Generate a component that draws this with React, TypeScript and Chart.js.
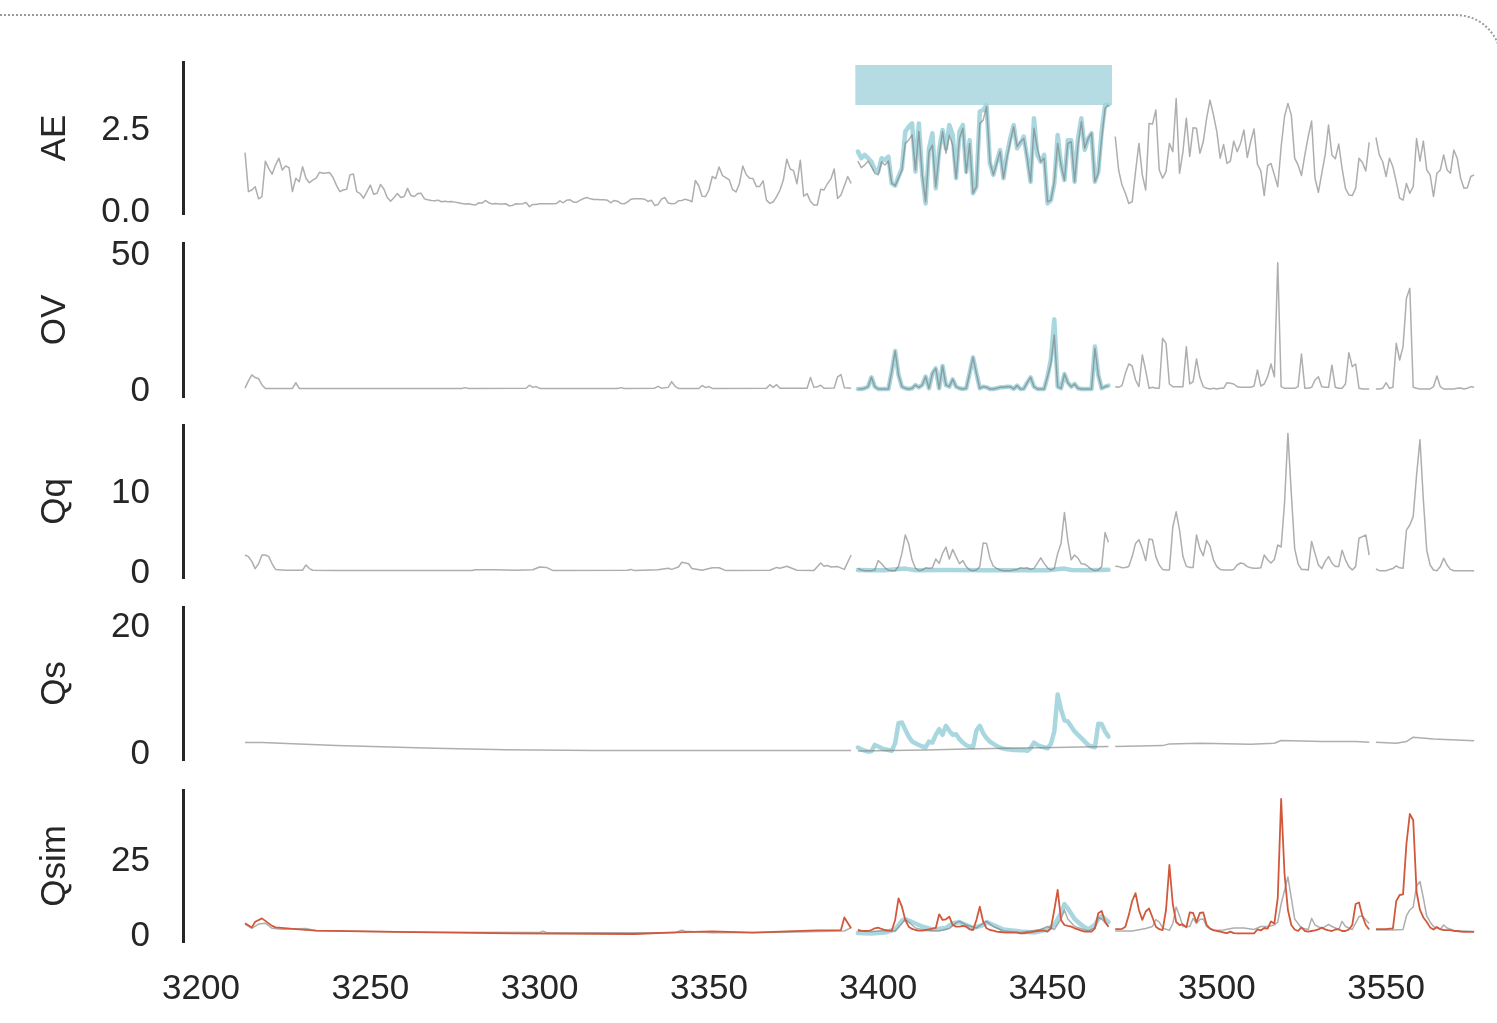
import React, { useEffect, useRef } from "react";
import { Chart, registerables } from "chart.js";

Chart.register(...registerables);

// ---------------- data ----------------
const X_TICKS = [3200, 3250, 3300, 3350, 3400, 3450, 3500, 3550];
const X_MIN = 3194.68;
const X_MAX = 3582.75;

const SEG1_START = 3213;
const SEG2_START = 3394;
const SEG3A_START = 3470;
const SEG3B_START = 3547;

// AE
const AE_GREY_1 = [
  1.75, 0.56, 0.61, 0.71, 0.34, 0.41, 1.49, 1.27, 1.09, 1.37,
  1.58, 1.22, 1.34, 1.29, 0.56, 0.97, 0.86, 1.32, 0.97, 0.83,
  0.91, 0.97, 1.15, 1.12, 1.13, 1.14, 0.99, 0.75, 0.56, 0.61,
  0.63, 1.07, 1.1, 0.56, 0.5, 0.36, 0.56, 0.76, 0.48, 0.51,
  0.78, 0.64, 0.38, 0.27, 0.38, 0.5, 0.38, 0.41, 0.66, 0.44,
  0.41, 0.5, 0.51, 0.34, 0.31, 0.29, 0.28, 0.3, 0.25, 0.27,
  0.25, 0.26, 0.24, 0.22, 0.2, 0.18, 0.19, 0.17, 0.15, 0.22,
  0.21, 0.29, 0.22, 0.18, 0.2, 0.18, 0.18, 0.19, 0.13, 0.14,
  0.19, 0.18, 0.19, 0.23, 0.1, 0.17, 0.17, 0.19, 0.19, 0.19,
  0.19, 0.19, 0.2, 0.28, 0.22, 0.3, 0.31, 0.24, 0.24, 0.3,
  0.35, 0.38, 0.34, 0.32, 0.32, 0.31, 0.31, 0.3, 0.22, 0.29,
  0.27, 0.2, 0.19, 0.25, 0.33, 0.34, 0.34, 0.34, 0.33, 0.26,
  0.3, 0.14, 0.17, 0.33, 0.38, 0.21, 0.19, 0.2, 0.28, 0.29,
  0.33, 0.3, 0.25, 0.9, 0.74, 0.42, 0.41, 0.61, 1.02, 0.96,
  1.31, 1.05, 0.99, 0.92, 0.62, 0.55, 0.8, 1.34, 1.08, 0.97,
  0.96, 0.72, 0.72, 0.89, 0.3, 0.2, 0.25, 0.41, 0.61, 0.92,
  1.55, 1.25, 1.2, 0.8, 1.52, 0.42, 0.5, 0.26, 0.15, 0.15,
  0.63, 0.61, 0.8, 0.94, 1.25, 0.35, 0.46, 0.74, 1.02, 0.81,
];
const AE_GREY_2 = [
  1.49, 1.29, 1.37, 1.49, 1.32, 1.12, 1.07, 1.47, 1.37, 1.49,
  0.81, 0.74, 0.97, 1.22, 2.03, 2.13, 2.29, 1.22, 2.39, 1.07,
  0.25, 1.78, 1.98, 0.71, 1.68, 2.39, 1.73, 2.29, 1.98, 0.97,
  2.18, 2.49, 1.12, 2.03, 0.51, 0.71, 2.64, 2.74, 3.15, 1.47,
  1.07, 1.42, 1.78, 0.97, 1.58, 2.08, 2.54, 1.93, 2.08, 2.18,
  1.58, 0.86, 2.49, 1.88, 1.47, 1.58, 0.25, 0.3, 0.86, 2.03,
  1.37, 0.91, 2.03, 2.08, 0.86, 1.98, 2.69, 1.88, 2.18, 2.34,
  0.86, 1.12, 2.18, 3.1, 3.2,
];
const AE_BLUE_2 = [
  1.78, 1.58, 1.68, 1.58, 1.47, 1.22, 1.17, 1.58, 1.52, 1.63,
  0.81, 0.74, 1.02, 1.27, 2.39, 2.54, 2.64, 1.17, 2.64, 1.07,
  0.2, 1.88, 2.34, 0.66, 1.83, 2.44, 1.88, 2.59, 2.29, 0.97,
  2.39, 2.59, 1.17, 2.13, 0.51, 0.71, 3.0, 3.05, 3.2, 1.42,
  1.07, 1.47, 1.83, 0.97, 1.68, 2.18, 2.59, 1.88, 2.03, 2.24,
  1.58, 0.86, 2.8, 1.68, 1.47, 1.68, 0.2, 0.3, 0.81, 2.29,
  1.37, 0.91, 2.13, 2.13, 0.86, 2.18, 2.8, 1.83, 2.18, 2.34,
  0.86, 1.17, 2.39, 3.2, 3.2,
];
const AE_GREY_3A = [
  2.24, 1.22, 0.76, 0.51, 0.2, 0.25, 1.17, 2.03, 1.07, 0.61,
  2.64, 2.62, 3.05, 1.22, 0.97, 1.17, 2.03, 1.78, 3.4, 1.12,
  1.78, 2.8, 1.63, 2.51, 2.49, 1.73, 2.08, 2.8, 3.35, 2.9,
  2.39, 1.58, 2.0, 1.42, 1.49, 2.1, 1.78, 2.03, 2.44, 1.6,
  2.08, 2.47, 1.39, 1.19, 0.44, 1.35, 1.42, 1.07, 0.71, 1.93,
  2.85, 3.25, 2.9, 1.58, 1.37, 1.05, 1.68, 2.24, 2.71, 0.97,
  0.54, 1.12, 1.68, 2.59, 1.68, 1.56, 2.01, 1.27, 0.66, 0.46,
  0.44, 0.66, 1.58, 1.45, 1.19, 2.06,
];
const AE_GREY_3B = [
  2.21, 1.68, 1.47, 1.02, 1.58, 1.32, 0.86, 0.36, 0.3, 0.81,
  0.51, 0.71, 2.18, 1.49, 2.1, 1.22, 1.07, 0.41, 1.12, 1.22,
  1.68, 1.22, 1.12, 1.83, 1.58, 0.97, 0.66, 0.68, 1.02, 1.07,
];
const AE_BAND_X = [3393.2, 3469.1];
const AE_BAND_Y = [3.2, 4.42];

// OV
const OV_GREY_1 = [
  [3213, 0.3], [3214, 3.0], [3215, 5.2], [3216, 4.2], [3217, 3.8], [3218, 1.5], [3219, 0.2],
  [3227, 0.2], [3228, 2.3], [3229, 0.2], [3277, 0.2], [3278, 0.5], [3279, 0.2],
  [3296, 0.3], [3297, 1.4], [3298, 0.6], [3299, 0.9], [3300, 0.2], [3323, 0.2], [3324, 0.5],
  [3325, 0.2], [3334, 0.3], [3335, 1.0], [3336, 0.3], [3338, 0.6], [3339, 2.7], [3340, 1.0],
  [3341, 0.2], [3347, 0.2], [3348, 1.3], [3349, 0.5], [3350, 0.9], [3351, 0.2], [3367, 0.3],
  [3368, 1.6], [3369, 0.6], [3370, 1.6], [3371, 0.3], [3379, 0.3], [3380, 4.2], [3381, 0.6],
  [3382, 0.8], [3383, 1.4], [3384, 0.3], [3387, 0.4], [3388, 4.5], [3389, 5.3], [3390, 0.5],
  [3392, 0.3],
];
const OV_GREY_2 = [
  0, 0, 0.25, 0.86, 4.29, 0.86, 0, 0, 0, 0,
  6.37, 13.97, 5.15, 0.86, 0.25, 0, 0.25, 1.47, 0.61, 1.47,
  4.53, 0.25, 5.76, 7.6, 0.25, 8.46, 1.47, 0.86, 3.55, 0.86,
  0.25, 0, 0.25, 5.76, 11.64, 5.76, 0.25, 0.86, 0.61, 0,
  0, 0.25, 0.61, 0.61, 0.86, 0.86, 0, 1.23, 0, 0.12,
  2.33, 4.29, 0.86, 0, 0, 0, 4.53, 9.44, 19.85, 0.86,
  0.25, 5.51, 2.33, 0.86, 1.84, 0.25, 0, 0, 0, 0,
  14.95, 5.15, 0.25, 0.86, 1.23,
];
const OV_BLUE_2 = [
  0, 0, 0.25, 0.86, 4.29, 0.86, 0, 0, 0, 0,
  6.37, 13.97, 5.15, 0.86, 0.25, 0, 0.25, 1.47, 0.61, 1.47,
  4.53, 0.25, 5.76, 7.6, 0.25, 8.46, 1.47, 0.86, 3.55, 0.86,
  0.25, 0, 0.25, 5.76, 11.64, 5.76, 0.25, 0.86, 0.61, 0,
  0, 0.25, 0.61, 0.61, 0.86, 0.86, 0, 1.23, 0, 0.12,
  2.33, 4.29, 0.86, 0, 0, 0, 4.53, 11.0, 25.6, 0.86,
  0.25, 5.51, 2.33, 0.86, 1.84, 0.25, 0, 0, 0, 0,
  15.6, 5.15, 0.25, 0.86, 1.23,
];
const OV_GREY_3A = [
  0.86, 0.61, 1.23, 5.76, 9.19, 8.46, 3.31, 0.86, 12.5, 6.74,
  0.25, 0.61, 0.25, 0.25, 18.63, 16.79, 1.84, 0.86, 0.86, 0.86,
  0.86, 15.56, 1.84, 2.7, 11.03, 4.29, 0.86, 0.25, 0, 0.25,
  0, 0.25, 0.25, 2.33, 2.08, 1.84, 0.86, 0.61, 0.61, 0.61,
  0.61, 1.1, 6.99, 1.1, 1.84, 4.53, 9.19, 4.53, 46.45, 0.86,
  0.25, 0.25, 0.25, 0.25, 0.86, 12.87, 0.25, 0.25, 0.61, 3.31,
  4.53, 0.86, 0.61, 0.61, 8.82, 0.61, 0.25, 0.25, 1.84, 13.36,
  8.21, 9.19, 0.25, 0, 0, 0,
];
const OV_GREY_3B = [
  0, 0, 0.25, 2.33, 0.25, 0.61, 16.79, 10.66, 15.56, 33.33,
  37.01, 0.61, 0.25, 0, 0, 0, 0, 0.86, 4.78, 0.86,
  0, 0, 0, 0, 0.25, 0.37, 0, 0.25, 0.86, 0.61,
];

// Qq
const QQ_GREY_1 = [
  [3213, 2.0], [3214, 1.8], [3215, 1.2], [3216, 0.3], [3217, 0.9], [3218, 2.0], [3219, 2.0],
  [3220, 1.8], [3221, 0.9], [3222, 0.2], [3225, 0.1], [3230, 0.1], [3231, 0.75], [3232, 0.3],
  [3233, 0.1], [3240, 0.05], [3280, 0.05], [3281, 0.15], [3287, 0.15], [3293, 0.1], [3298, 0.15],
  [3300, 0.5], [3302, 0.45], [3304, 0.05], [3326, 0.1], [3327, 0.2], [3328, 0.05], [3335, 0.15],
  [3338, 0.35], [3339, 0.2], [3341, 0.5], [3342, 1.1], [3344, 0.9], [3345, 0.3], [3348, 0.1],
  [3351, 0.4], [3353, 0.4], [3355, 0.05], [3368, 0.1], [3370, 0.45], [3371, 0.35], [3373, 0.6],
  [3376, 0.1], [3381, 0.05], [3383, 1.0], [3384, 0.6], [3385, 0.7], [3386, 0.5], [3388, 0.55],
  [3390, 0.2], [3392, 2.0],
];
const QQ_GREY_2 = [
  0.33, 0.12, 0.04, 0.04, 0.04, 0.12, 1.3, 0.9, 0.4, 0.12,
  0.04, 0.04, 0.6, 2.2, 4.5, 3.4, 1.4, 0.35, 0.04, 0.12,
  0.4, 0.33, 0.4, 1.5, 0.95, 2.2, 3.0, 1.5, 2.7, 1.8,
  0.9, 1.3, 0.55, 0.12, 0.04, 0.12, 0.55, 3.5, 3.45, 1.6,
  0.6, 0.33, 0.12, 0.04, 0.04, 0.04, 0.12, 0.2, 0.4, 0.33,
  0.4, 0.2, 0.33, 0.95, 1.65, 0.95, 0.4, 0.12, 0.33, 2.2,
  3.45, 7.3, 3.8, 1.4, 2.0, 1.6, 0.9, 0.85, 0.55, 0.2,
  0.04, 0.12, 0.55, 4.8, 3.6,
];
const QQ_BLUE_2 = [
  [3394, 0.12], [3398, 0.08], [3402, 0.1], [3408, 0.3], [3411, 0.1], [3420, 0.12], [3432, 0.1],
  [3440, 0.08], [3450, 0.1], [3455, 0.3], [3457, 0.12], [3462, 0.1], [3468, 0.15],
];
const QQ_GREY_3A = [
  0.6, 0.55, 0.4, 0.45, 0.55, 1.8, 3.45, 3.9, 2.8, 1.3,
  4.0, 3.9, 1.8, 0.75, 0.2, 0.12, 0.12, 5.5, 7.4, 5.1,
  1.8, 0.6, 0.45, 0.45, 4.5, 2.8, 1.9, 3.8, 3.1, 1.4,
  0.55, 0.2, 0.12, 0.12, 0.12, 0.2, 0.75, 1.0, 0.9, 0.55,
  0.4, 0.33, 0.33, 0.4, 2.0, 1.4, 1.0, 1.45, 3.25, 3.0,
  8.5, 17.2, 9.7, 2.8, 0.9, 0.2, 0.2, 0.12, 3.7, 2.2,
  0.75, 0.3, 1.2, 1.8, 1.0, 0.55, 0.55, 2.6, 1.4, 0.55,
  0.12, 0.55, 4.1, 4.3, 4.5, 2.0,
];
const QQ_GREY_3B = [
  0.25, 0.04, 0.04, 0.04, 0.2, 0.3, 0.65, 0.4, 0.33, 5.1,
  5.75, 6.8, 12.0, 16.4, 8.9, 2.6, 0.75, 0.12, 0.04, 0.55,
  1.6, 0.75, 0.2, 0.04, 0.04, 0.04, 0.04, 0.04, 0.04, 0.04,
];

// Qs
const QS_GREY_1 = [[3213, 1.48], [3218, 1.48], [3240, 1.0], [3269, 0.58], [3290, 0.35], [3316, 0.21], [3392, 0.21]];
const QS_GREY_2 = [[3394, 0.16], [3414, 0.32], [3426, 0.48], [3438, 0.58], [3452, 0.69], [3468, 0.85]];
const QS_GREY_3A = [[3470, 0.85], [3484, 1.0], [3486, 1.27], [3495, 1.38], [3510, 1.22], [3517, 1.38], [3519, 1.8], [3531, 1.64], [3541, 1.64], [3545, 1.53]];
const QS_GREY_3B = [[3547, 1.53], [3553, 1.38], [3556, 1.64], [3558, 2.33], [3564, 2.06], [3576, 1.75]];
const QS_BLUE_2 = [
  0.69, 0.42, 0.21, 0.05, 0.1, 1.11, 0.85, 0.58, 0.42, 0.32,
  0.16, 1.38, 4.55, 4.66, 3.49, 2.43, 1.64, 1.38, 1.11, 0.85,
  0.74, 1.64, 1.48, 2.7, 3.6, 2.7, 4.13, 3.33, 2.7, 2.8,
  2.01, 1.48, 1.06, 0.85, 0.74, 3.39, 4.13, 2.96, 2.17, 1.64,
  1.27, 0.95, 0.69, 0.53, 0.42, 0.37, 0.32, 0.32, 0.26, 0.32,
  0.16, 0.58, 1.48, 1.11, 0.85, 0.74, 0.58, 1.27, 3.23, 9.05,
  6.67, 4.97, 4.81, 4.02, 3.23, 2.7, 2.17, 1.64, 1.11, 0.85,
  0.74, 4.44, 4.39, 3.23, 2.43,
];

// Qsim
const QSIM_RED_1 = [
  [3213, 3.6], [3215, 2.2], [3216, 4.1], [3218, 5.2], [3221, 2.7], [3222, 2.2], [3228, 1.6],
  [3234, 1.1], [3257, 0.7], [3292, 0.2], [3328, 0.0], [3340, 0.55], [3351, 0.9], [3363, 0.45],
  [3373, 0.9], [3382, 1.2], [3389, 1.3], [3390, 5.5], [3392, 1.9],
];
const QSIM_GREY_1 = [
  [3213, 3.3], [3215, 1.9], [3217, 3.3], [3219, 3.6], [3221, 1.9], [3224, 1.6], [3231, 1.8],
  [3234, 1.1], [3270, 0.6], [3300, 0.5], [3301, 0.9], [3302, 0.5], [3340, 0.4], [3342, 1.3],
  [3343, 0.9], [3351, 0.4], [3373, 0.6], [3382, 0.8], [3390, 1.0], [3392, 2.1],
];
const QSIM_RED_2 = [
  1.33, 1.1, 1.0, 1.0, 1.33, 1.9, 2.1, 1.67, 1.33, 1.1,
  1.1, 4.67, 11.9, 9.1, 4.67, 2.44, 1.67, 1.33, 1.1, 1.1,
  1.33, 1.56, 1.78, 2.0, 6.56, 4.67, 4.89, 5.78, 3.0, 2.44,
  2.44, 2.67, 2.44, 1.56, 1.33, 4.67, 9.1, 4.1, 1.9, 1.33,
  1.1, 0.78, 0.67, 0.56, 0.44, 0.44, 0.44, 0.44, 0.22, 0.22,
  0.44, 0.56, 0.78, 1.0, 1.1, 1.1, 0.78, 1.9, 8.0, 14.7,
  4.67, 3.0, 2.67, 2.44, 1.9, 1.56, 1.1, 0.78, 0.78, 0.78,
  1.9, 6.9, 7.67, 4.1, 2.44,
];
const QSIM_GREY_2 = [
  [3394, 1.0], [3398, 0.8], [3402, 1.2], [3405, 1.0], [3407, 3.5], [3408, 5.0], [3409, 4.0],
  [3411, 2.0], [3414, 1.2], [3418, 1.0], [3421, 1.8], [3423, 3.8], [3424, 4.2], [3426, 3.0],
  [3429, 2.0], [3431, 3.5], [3432, 4.2], [3434, 2.5], [3437, 1.0], [3442, 0.5], [3448, 1.5],
  [3450, 2.5], [3452, 1.5], [3454, 5.0], [3455, 8.0], [3456, 5.0], [3458, 2.5], [3462, 1.0],
  [3464, 2.0], [3465, 5.5], [3466, 5.0], [3468, 2.5],
];
const QSIM_BLUE_2 = [
  [3394, 0.3], [3398, 0.2], [3402, 0.5], [3405, 1.5], [3407, 4.5], [3408, 5.0], [3410, 4.0],
  [3413, 2.5], [3416, 1.5], [3420, 2.0], [3422, 3.5], [3424, 4.0], [3426, 3.0], [3428, 2.0],
  [3431, 3.0], [3432, 4.0], [3434, 3.0], [3437, 1.5], [3442, 0.8], [3446, 0.5], [3450, 1.5],
  [3452, 3.0], [3454, 7.0], [3455, 10.0], [3456, 8.5], [3458, 5.0], [3460, 3.0], [3462, 1.5],
  [3464, 3.0], [3465, 5.0], [3466, 6.0], [3468, 4.0],
];
const QSIM_RED_3A = [
  1.6, 1.6, 1.7, 2.4, 6.3, 11.0, 13.6, 8.0, 4.7, 7.5,
  8.5, 5.5, 2.4, 1.6, 1.3, 8.0, 23.0, 10.0, 4.0, 3.0,
  3.2, 2.2, 7.2, 7.0, 4.0, 7.0, 7.2, 3.0, 1.8, 1.3,
  1.0, 0.8, 0.5, 0.3, 0.8, 0.3, 0.2, 0.2, 0.2, 0.2,
  0.2, 0.2, 1.5, 1.2, 2.0, 1.8, 4.2, 3.5, 12.0, 45.0,
  20.0, 8.0, 3.0, 1.5, 1.0, 2.2, 1.0, 0.8, 1.0, 1.2,
  1.5, 2.2, 1.5, 1.2, 1.0, 1.5, 1.6, 1.0, 1.0, 1.5,
  3.0, 10.0, 10.5, 6.0, 3.0, 1.5,
];
const QSIM_RED_3B = [
  1.6, 1.6, 1.6, 1.6, 1.8, 1.8, 11.0, 13.0, 13.2, 30.0,
  40.0, 38.0, 14.0, 8.0, 5.5, 4.0, 2.2, 1.5, 2.3, 1.6,
  1.3, 1.3, 1.3, 1.0, 1.0, 0.8, 0.7, 0.7, 0.7, 0.7,
];
const QSIM_GREY_3A = [
  [3470, 1.0], [3475, 1.0], [3479, 1.8], [3481, 2.5], [3482, 4.8], [3483, 4.0], [3484, 2.0],
  [3486, 1.2], [3487, 3.5], [3488, 9.0], [3489, 6.0], [3490, 2.5], [3492, 2.5], [3493, 5.2],
  [3494, 3.5], [3495, 4.8], [3496, 5.0], [3497, 2.5], [3499, 1.2], [3502, 1.3], [3505, 2.0],
  [3508, 2.0], [3511, 1.5], [3513, 2.5], [3515, 2.5], [3517, 3.0], [3518, 4.0], [3519, 10.0],
  [3521, 19.0], [3522, 12.0], [3523, 5.0], [3525, 2.0], [3527, 1.5], [3528, 5.2], [3529, 3.0],
  [3531, 1.8], [3533, 3.2], [3534, 2.5], [3536, 1.5], [3537, 4.2], [3538, 2.5], [3540, 1.5],
  [3542, 5.8], [3543, 6.0], [3545, 3.5],
];
const QSIM_GREY_3B = [
  [3547, 1.3], [3552, 1.3], [3555, 1.5], [3556, 6.0], [3557, 8.0], [3558, 9.0], [3559, 16.0],
  [3560, 17.5], [3561, 12.0], [3562, 6.0], [3563, 4.0], [3564, 2.5], [3566, 1.6], [3567, 3.0],
  [3568, 2.0], [3570, 1.2], [3576, 0.8],
];

// ---------------- helpers ----------------
type Pt = { x: number; y: number | null };
const daily = (start: number, vals: number[]): Pt[] => vals.map((v, i) => ({ x: start + i, y: v }));
const pairs = (arr: number[][]): Pt[] => arr.map(([x, y]) => ({ x, y }));
const joinSegs = (...segs: Pt[][]): Pt[] => {
  const out: Pt[] = [];
  segs.forEach((s) => {
    if (out.length && s.length) {
      out.push({ x: (out[out.length - 1].x + s[0].x) / 2, y: null });
    }
    out.push(...s);
  });
  return out;
};

const FONT_FAMILY = "'Liberation Sans', Arial, Helvetica, sans-serif";
const FONT = { family: FONT_FAMILY, size: 35 };
const TEXT = "#262626";
const GREY = "rgba(125,125,125,0.62)";
const BLUE = "rgba(160,211,220,0.9)";
const BAND = "#b4dce2";
const RED = "#d2583b";

const greyDs = (data: Pt[]) => ({
  data, borderColor: GREY, borderWidth: 1.5, pointRadius: 0, order: 1,
  borderJoinStyle: "round", spanGaps: false, fill: false,
});
const blueDs = (data: Pt[]) => ({
  data, borderColor: BLUE, borderWidth: 4.5, pointRadius: 0, order: 2,
  borderJoinStyle: "round", borderCapStyle: "round", spanGaps: false, fill: false,
});
const redDs = (data: Pt[]) => ({
  data, borderColor: RED, borderWidth: 1.8, pointRadius: 0, order: 0,
  borderJoinStyle: "round", spanGaps: false, fill: false,
});

type PanelProps = {
  top: number; height: number; padTop: number; padBottom: number;
  yMin: number; yMax: number; yTicks: number[]; decimals: number;
  title: string; datasets: any[]; showX: boolean;
};

function Panel(p: PanelProps) {
  const ref = useRef<HTMLCanvasElement>(null);
  useEffect(() => {
    if (!ref.current) return;
    const chart = new Chart(ref.current, {
      type: "line",
      data: { datasets: p.datasets },
      options: {
        animation: false,
        responsive: false,
        devicePixelRatio: 1,
        layout: { padding: { top: p.padTop, bottom: p.padBottom, left: 0, right: 0 } },
        plugins: { legend: { display: false }, tooltip: { enabled: false } },
        elements: { point: { radius: 0 }, line: { tension: 0 } },
        scales: {
          x: {
            type: "linear",
            min: X_MIN,
            max: X_MAX,
            display: p.showX,
            grid: { display: false, drawTicks: false },
            border: { display: false },
            ticks: {
              font: FONT, color: TEXT, padding: 26, maxRotation: 0, autoSkip: false,
              callback: (v: any) => String(v),
            },
            afterBuildTicks: (s: any) => { s.ticks = X_TICKS.map((v) => ({ value: v })); },
            afterFit: (s: any) => {
              s.height = p.showX ? 81 : 0;
              s.paddingLeft = 0; s.paddingRight = 0; s.paddingTop = 0; s.paddingBottom = 0;
            },
          },
          y: {
            type: "linear",
            min: p.yMin,
            max: p.yMax,
            grid: { display: false, drawTicks: false },
            border: { display: true, color: TEXT, width: 3 },
            ticks: {
              font: FONT, color: TEXT, padding: 33, autoSkip: false, labelOffset: 2,
              callback: (v: any) => Number(v).toFixed(p.decimals),
            },
            afterBuildTicks: (s: any) => { s.ticks = p.yTicks.map((v) => ({ value: v })); },
            afterFit: (s: any) => {
              s.width = 183;
              s.paddingTop = 0; s.paddingBottom = 0; s.paddingLeft = 0; s.paddingRight = 0;
            },
            title: { display: true, text: p.title, font: FONT, color: TEXT, padding: { top: 34, bottom: 0 } },
          },
        },
      } as any,
    });
    return () => chart.destroy();
  }, []);
  return (
    <canvas
      ref={ref}
      width={1497}
      height={p.height}
      style={{ position: "absolute", left: 0, top: p.top, width: 1497, height: p.height }}
    />
  );
}

export default function App() {
  const aeData = [
    greyDs(joinSegs(daily(SEG1_START, AE_GREY_1), daily(SEG2_START, AE_GREY_2), daily(SEG3A_START, AE_GREY_3A), daily(SEG3B_START, AE_GREY_3B))),
    blueDs(daily(SEG2_START, AE_BLUE_2)),
    {
      data: [{ x: AE_BAND_X[0], y: AE_BAND_Y[1] }, { x: AE_BAND_X[1], y: AE_BAND_Y[1] }],
      borderWidth: 0, borderColor: BAND, backgroundColor: BAND, pointRadius: 0, order: 3,
      fill: { value: AE_BAND_Y[0] },
    },
  ];
  const ovData = [
    greyDs(joinSegs(pairs(OV_GREY_1), daily(SEG2_START, OV_GREY_2), daily(SEG3A_START, OV_GREY_3A), daily(SEG3B_START, OV_GREY_3B))),
    blueDs(daily(SEG2_START, OV_BLUE_2)),
  ];
  const qqData = [
    greyDs(joinSegs(pairs(QQ_GREY_1), daily(SEG2_START, QQ_GREY_2), daily(SEG3A_START, QQ_GREY_3A), daily(SEG3B_START, QQ_GREY_3B))),
    blueDs(pairs(QQ_BLUE_2)),
  ];
  const qsData = [
    greyDs(joinSegs(pairs(QS_GREY_1), pairs(QS_GREY_2), pairs(QS_GREY_3A), pairs(QS_GREY_3B))),
    blueDs(daily(SEG2_START, QS_BLUE_2)),
  ];
  const qsimData = [
    redDs(joinSegs(pairs(QSIM_RED_1), daily(SEG2_START, QSIM_RED_2), daily(SEG3A_START, QSIM_RED_3A), daily(SEG3B_START, QSIM_RED_3B))),
    greyDs(joinSegs(pairs(QSIM_GREY_1), pairs(QSIM_GREY_2), pairs(QSIM_GREY_3A), pairs(QSIM_GREY_3B))),
    blueDs(pairs(QSIM_BLUE_2)),
  ];

  return (
    <div style={{ position: "absolute", left: 0, top: 0, width: 1497, height: 1023, overflow: "hidden", background: "#fff" }}>
      <div
        style={{
          position: "absolute", left: -20, top: 14, width: 1522, height: 1200, boxSizing: "border-box",
          borderTop: "2px dotted #9a9a9a", borderRight: "2px dotted #9a9a9a", borderTopRightRadius: 46,
        }}
      />
      <Panel top={32} height={212} padTop={30} padBottom={30} yMin={-0.122} yMax={4.512} yTicks={[0, 2.5]} decimals={1} title="AE" datasets={aeData} showX={false} />
      <Panel top={213} height={214} padTop={30} padBottom={30} yMin={-2.94} yMax={53.68} yTicks={[0, 50]} decimals={0} title="OV" datasets={ovData} showX={false} />
      <Panel top={395} height={213} padTop={30} padBottom={30} yMin={-0.875} yMax={18.25} yTicks={[0, 10]} decimals={0} title="Qq" datasets={qqData} showX={false} />
      <Panel top={577} height={213} padTop={30} padBottom={30} yMin={-1.27} yMax={22.86} yTicks={[0, 20]} decimals={0} title="Qs" datasets={qsData} showX={false} />
      <Panel top={760} height={263} padTop={30} padBottom={0} yMin={-2.67} yMax={48.0} yTicks={[0, 25]} decimals={0} title="Qsim" datasets={qsimData} showX={true} />
    </div>
  );
}
